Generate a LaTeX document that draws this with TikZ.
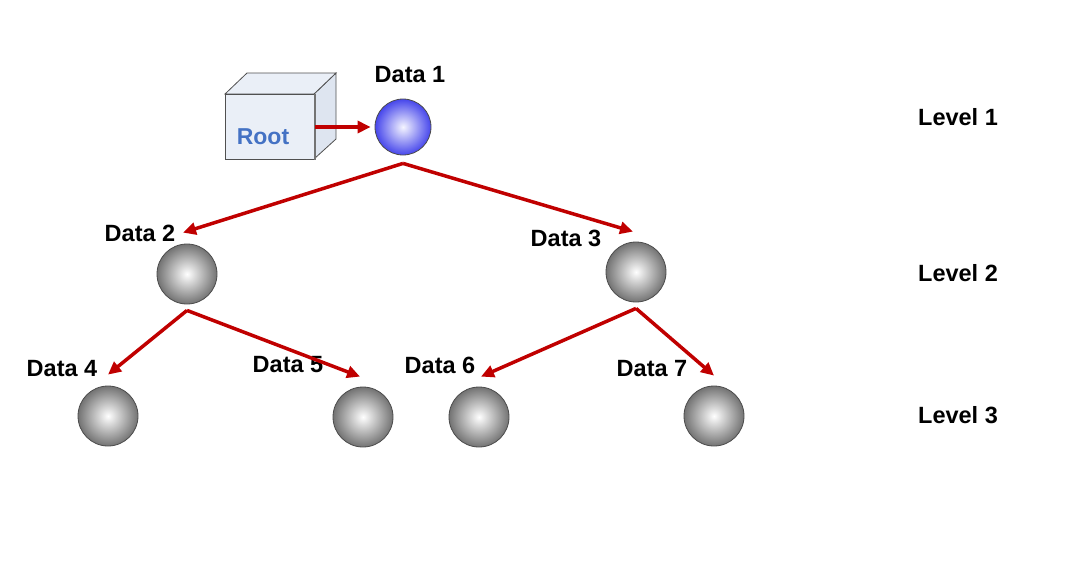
\documentclass[tikz,border=0pt]{standalone}
\usepackage{fontspec}
\setmainfont{Liberation Sans}
\usetikzlibrary{arrows.meta}
\definecolor{arrowred}{RGB}{192,0,0}
\definecolor{rootblue}{RGB}{68,114,196}
\definecolor{ballblue}{RGB}{70,70,235}
\definecolor{boxfill}{RGB}{234,239,247}
\definecolor{boxside}{RGB}{222,229,240}
\definecolor{boxline}{RGB}{80,80,80}
\tikzset{
  lbl/.style={font=\fontsize{23.5}{27}\selectfont\bfseries, inner sep=0pt},
  grayball/.style={circle, minimum size=60pt, inner sep=0pt, draw=black!70, line width=0.8pt, shading=radial, inner color=white, outer color=black!55},
  blueball/.style={circle, minimum size=56pt, inner sep=0pt, draw=black!70, line width=0.8pt, shading=radial, inner color=blue!4, outer color=ballblue},
  link/.style={draw=arrowred, line width=3.5pt, -{Triangle[length=13pt,width=12pt]}},
}
\begin{document}
\begin{tikzpicture}[x=1pt,y=-1pt]
\useasboundingbox (0,0) rectangle (1070,566);
% Root box (3D)
\filldraw[fill=boxside, draw=boxline, line width=0.8pt] (314,94) -- (336,73) -- (336,139) -- (314,159) -- cycle;
\filldraw[fill=boxfill, draw=boxline, line width=0.8pt] (225,94) -- (247,73) -- (336,73) -- (314,94) -- cycle;
\node[draw=boxline, line width=0.8pt, fill=boxfill, minimum width=89pt, minimum height=65pt, inner sep=0pt, anchor=north west] (root) at (225,94) {};
\draw[boxline!80, line width=1.5pt] (root.north east) -- (root.south east);
\node[font=\fontsize{23}{27}\selectfont\bfseries, text=rootblue, inner sep=0pt] (roottxt) at (263,137) {Root};
% balls
\node[blueball] (d1) at (403,127) {};
\node[grayball] (d2) at (187,274) {};
\node[grayball] (d3) at (636,272) {};
\node[grayball] (d4) at (108,416) {};
\node[grayball] (d5) at (363,417) {};
\node[grayball] (d6) at (479,417) {};
\node[grayball] (d7) at (714,416) {};
% labels
\node[lbl] (l1) at (410,75) {Data 1};
\node[lbl] (l2) at (140,233) {Data 2};
\node[lbl] (l3) at (566,238) {Data 3};
\node[lbl] (l4) at (62,369) {Data 4};
\node[lbl] (l5) at (288,365) {Data 5};
\node[lbl] (l6) at (440,365) {Data 6};
\node[lbl] (l7) at (652,369) {Data 7};
\node[lbl] (lv1) at (958,117) {Level 1};
\node[lbl] (lv2) at (958,273) {Level 2};
\node[lbl] (lv3) at (958,415) {Level 3};
% connectors
\coordinate (s1) at ([yshift=-8pt]d1.south);
\coordinate (s2) at ([yshift=-6pt]d2.south);
\coordinate (s3) at ([yshift=-6pt]d3.south);
\coordinate (e5) at ([xshift=-3pt,yshift=10pt]d5.north);
\draw[link] (root.east |- d1) -- ([xshift=-4pt]d1.west);
\draw[link] (s1) -- ([xshift=-4pt,yshift=11pt]d2.north);
\draw[link] (s1) -- ([xshift=-3pt,yshift=10pt]d3.north);
\draw[link] (s2) -- ([yshift=11pt]d4.north);
\draw[link] (s2) -- (e5);
\draw[link] (s3) -- ([xshift=2pt,yshift=10pt]d6.north);
\draw[link] (s3) -- ([yshift=10pt]d7.north);
\end{tikzpicture}
\end{document}
